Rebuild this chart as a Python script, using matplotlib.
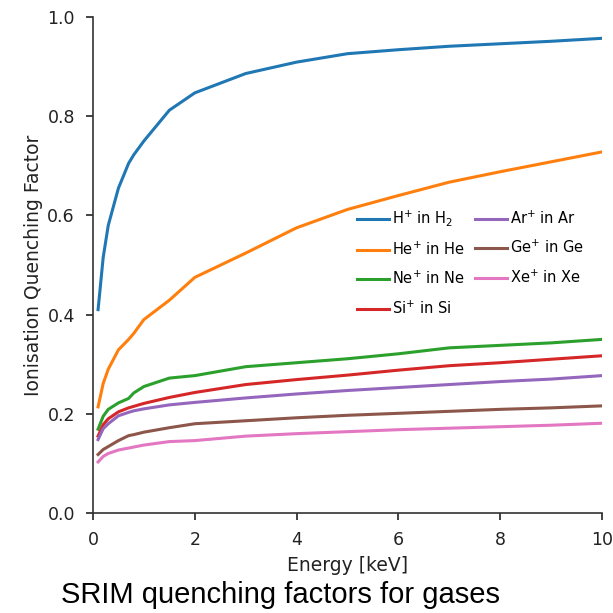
import matplotlib
matplotlib.use("Agg")
import matplotlib.pyplot as plt

energy = [0.1, 0.2, 0.3, 0.5, 0.7, 0.8, 1.0, 1.5, 2, 3, 4, 5, 6, 7, 8, 9, 10]

h_in_h2 = [0.41, 0.515, 0.58, 0.655, 0.705, 0.722, 0.75, 0.812, 0.847, 0.886, 0.909, 0.926, 0.934, 0.941, 0.946, 0.951, 0.957]
he_in_he = [0.214, 0.261, 0.29, 0.329, 0.35, 0.362, 0.39, 0.429, 0.475, 0.524, 0.575, 0.612, 0.64, 0.667, 0.688, 0.708, 0.728]
ne_in_ne = [0.169, 0.195, 0.209, 0.222, 0.231, 0.242, 0.255, 0.272, 0.277, 0.295, 0.303, 0.311, 0.321, 0.333, 0.338, 0.343, 0.35]
si_in_si = [0.155, 0.178, 0.19, 0.204, 0.212, 0.215, 0.221, 0.233, 0.243, 0.259, 0.269, 0.278, 0.288, 0.297, 0.303, 0.31, 0.317]
ar_in_ar = [0.148, 0.17, 0.18, 0.196, 0.203, 0.206, 0.21, 0.218, 0.223, 0.232, 0.24, 0.247, 0.253, 0.259, 0.265, 0.27, 0.277]
ge_in_ge = [0.118, 0.128, 0.134, 0.146, 0.156, 0.158, 0.163, 0.172, 0.18, 0.186, 0.192, 0.197, 0.201, 0.205, 0.209, 0.212, 0.216]
xe_in_xe = [0.103, 0.114, 0.12, 0.127, 0.131, 0.133, 0.137, 0.144, 0.146, 0.155, 0.16, 0.164, 0.168, 0.171, 0.174, 0.177, 0.181]

labels = [r"H$^{+}$ in H$_{2}$", r"He$^{+}$ in He", r"Ne$^{+}$ in Ne", r"Si$^{+}$ in Si",
          r"Ar$^{+}$ in Ar", r"Ge$^{+}$ in Ge", r"Xe$^{+}$ in Xe"]
series = [h_in_h2, he_in_he, ne_in_ne, si_in_si, ar_in_ar, ge_in_ge, xe_in_xe]
colors = ["#1f77b4", "#ff7f0e", "#2ca02c", "#d62728", "#9467bd", "#8c564b", "#e377c2"]

fig = plt.figure(figsize=(6.13, 6.13), dpi=100)
ax = fig.add_axes([0.1517, 0.1631, 0.8303, 0.8092])

for y, lab, c in zip(series, labels, colors):
    ax.plot(energy, y, color=c, lw=2.2, label=lab)

ax.set_xlim(0, 10)
ax.set_ylim(0, 1.0)
ax.set_xticks([0, 2, 4, 6, 8, 10])
ax.set_yticks([0.0, 0.2, 0.4, 0.6, 0.8, 1.0])
ax.tick_params(labelsize=12.5, length=5, width=1.2, pad=8, colors="#222222", labelcolor="#222222")
ax.spines["top"].set_visible(False)
ax.spines["right"].set_visible(False)
for s in ("left", "bottom"):
    ax.spines[s].set_linewidth(1.2)
    ax.spines[s].set_color("#333333")
ax.set_xlabel("Energy [keV]", fontsize=13.5, color="#222222", labelpad=5)
ax.set_ylabel("Ionisation Quenching Factor", fontsize=13.5, color="#222222", labelpad=3)

ax.legend(ncol=2, frameon=False, fontsize=10.5, loc="upper left",
          bbox_to_anchor=(0.508, 0.626), handlelength=2.2, handletextpad=0.2,
          columnspacing=0.67, labelspacing=0.84, borderaxespad=0)

fig.text(0.457, 0.016, "SRIM quenching factors for gases", fontsize=21,
         family="Liberation Sans", ha="center", va="baseline", color="black")

fig.savefig("out.png", dpi=100)
